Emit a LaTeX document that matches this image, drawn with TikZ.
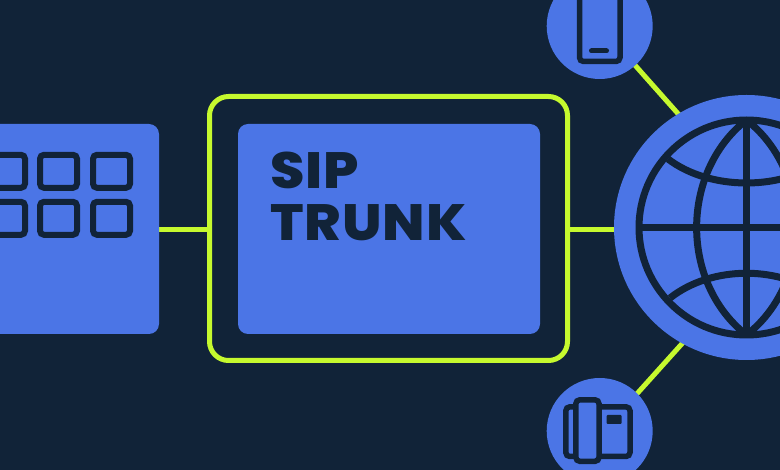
\documentclass[tikz,border=0pt]{standalone}
\usepackage{fontspec}
\setmainfont{Poppins}[BoldFont={Poppins ExtraBold},BoldFeatures={FakeStretch=1.09,LetterSpace=1.8}]
\definecolor{bgdark}{HTML}{112338}
\definecolor{bluefill}{HTML}{4B75E6}
\definecolor{limeline}{HTML}{C6F92E}
\pgfdeclarelayer{backmost}
\pgfdeclarelayer{linkslayer}
\pgfsetlayers{backmost,linkslayer,main}
\tikzset{
  panel/.style={rectangle,fill=bluefill,draw=none,inner sep=0pt,outer sep=0pt,rounded corners=10pt},
  disc/.style={circle,fill=bluefill,draw=none,inner sep=0pt,outer sep=0pt},
  framebox/.style={rectangle,draw=limeline,line width=5pt,fill=none,inner sep=0pt,outer sep=0pt,rounded corners=19pt},
  link/.style={draw=limeline,line width=5pt,shorten <=-2pt,shorten >=-2pt},
  icon/.style={draw=bgdark,line width=5.5pt,rounded corners=4pt,fill=none},
  gridcell/.style={rectangle,draw=bgdark,line width=6pt,fill=none,inner sep=0pt,rounded corners=4pt,minimum width=37pt,minimum height=33pt},
  globeline/.style={draw=bgdark,line width=7pt},
  title/.style={font=\bfseries\fontsize{51}{51}\selectfont,text=bgdark,inner sep=0pt,outer sep=0pt,anchor=base west}
}
\begin{document}
\begin{tikzpicture}[x=1pt,y=-1pt]
\path[use as bounding box,clip] (0,0) rectangle (780,470);
\begin{pgfonlayer}{backmost}
\fill[bgdark] (0,0) rectangle (780,470);
\end{pgfonlayer}

% main shapes
\node[panel,minimum width=199pt,minimum height=210pt] (left) at (59.5,229) {};
\node[framebox,minimum width=358pt,minimum height=264pt] (frame) at (388.5,228.5) {};
\node[panel,minimum width=302pt,minimum height=210pt] (inner) at (389,229) {};
\node[disc,minimum size=265pt] (globe) at (746.5,227.5) {};
\node[disc,minimum size=106pt] (mobile) at (599.7,26) {};
\node[disc,minimum size=106pt] (desk) at (599.7,431) {};

% connectors
\begin{pgfonlayer}{linkslayer}
\coordinate (leftport) at (159,230);
\coordinate (frameleft) at (209.5,230);
\coordinate (frameright) at (567.5,230);
\coordinate (globeport) at (616,230);
\draw[link] (leftport) -- (frameleft);
\draw[link] (frameright) -- (globeport);
\draw[link] (mobile.-48) -- (globe.121);
\draw[link] (desk.45) -- (globe.241);
\end{pgfonlayer}

% keypad
\foreach \cx/\nm in {6.5/a,58.5/b,111.5/c}{
  \node[gridcell] (cell1\nm) at (\cx,171.3) {};
  \node[gridcell] (cell2\nm) at (\cx,218.3) {};
}

% title
\node[title] (sip) at (270,189) {SIP};
\node[title] (trunk) at (270,240.5) {TRUNK};

% mobile icon
\draw[icon] (579.5,-10) rectangle (620,61.5);
\draw[draw=bgdark,line width=5pt,line cap=round] (591.5,51) -- (606.5,51);

% desk phone icon
\draw[icon] (565.8,406.8) rectangle (630,456.5);
\draw[icon,fill=bluefill] (575.8,399.8) rectangle (599,461.3);
\fill[bgdark,rounded corners=1pt] (606.7,415) rectangle (621.7,424);

% globe icon
\begin{scope}
\path[clip] (globe.center) circle[radius=111pt];
\draw[globeline] (globe.center) circle[radius=107.5pt];
\draw[globeline] (639,227.5) -- (780,227.5);
\draw[globeline] (746.5,120) -- (746.5,335);
\draw[globeline] (746.5,120) .. controls (680,172) and (680,283) .. (746.5,335);
\draw[globeline] (746.5,120) .. controls (813,172) and (813,283) .. (746.5,335);
\draw[globeline] (668,159) .. controls (710,191) and (783,191) .. (825,159);
\draw[globeline] (670,298) .. controls (712,265) and (781,265) .. (823,298);
\end{scope}
\end{tikzpicture}
\end{document}
